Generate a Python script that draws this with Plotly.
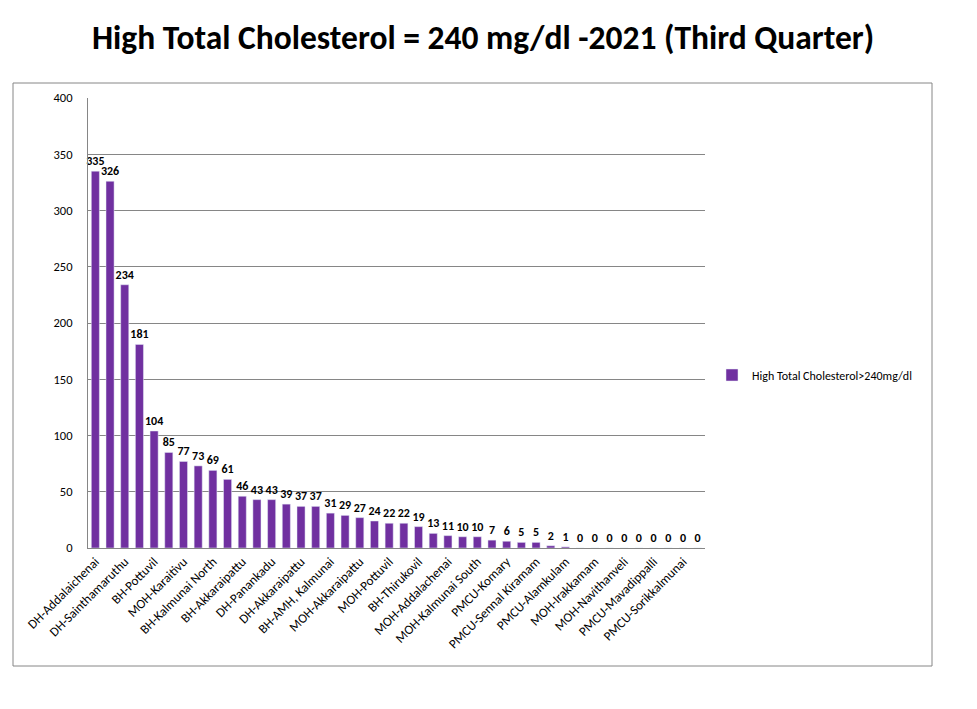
import plotly.graph_objects as go

categories = [
    "DH-Addalaichenai", "BH-Sammanthurai", "DH-Sainthamaruthu", "DH-Nintavur",
    "BH-Pottuvil", "MOH-Sammanthurai", "MOH-Karaitivu", "DH-Central Camp",
    "BH-Kalmunai North", "MOH-Nintavur", "BH-Akkaraipattu", "DH-Thirukovil",
    "DH-Panankadu", "MOH-Sainthamaruthu", "DH-Akkaraipattu", "DH-Maruthamunai",
    "BH-AMH, Kalmunai", "MOH-Alayadivembu", "MOH-Akkaraipattu", "DH-Karaitivu",
    "MOH-Pottuvil", "DH-Irakkamam", "BH-Thirukovil", "MOH-Kalmunai North",
    "MOH-Addalachenai", "DH-Oluvil", "MOH-Kalmunai South", "PMCU-Palamunai",
    "PMCU-Komary", "MOH-Thirukovil", "PMCU-Sennal Kiramam", "DH-Lahugala",
    "PMCU-Alamkulam", "PMCU-Kolavil", "MOH-Irakkamam", "DH-Malwatte",
    "MOH-Navithanveli", "PMCU-Varipathanchenai", "PMCU-Mavadippalli", "MOH-Lahugala",
    "PMCU-Sorikkalmunai", "PMCU-Panama",
]
values = [
    335, 326, 234, 181, 104, 85, 77, 73, 69, 61, 46, 43, 43, 39, 37, 37, 31,
    29, 27, 24, 22, 22, 19, 13, 11, 10, 10, 7, 6, 5, 5, 2, 1,
    0, 0, 0, 0, 0, 0, 0, 0, 0,
]
series_name = "High Total Cholesterol>240mg/dl"
title_text = "High Total Cholesterol = 240 mg/dl -2021 (Third Quarter)"
shown_ticks = categories[0::2]

font_family = "Carlito, Lato, 'Open Sans', sans-serif"

# page body has an 8px margin; reference coords are shifted by it
O = 8
W, H = 977 - 2 * O, 709 - 2 * O
L, R, T, B = 88 - O, W - (705 - O), 98 - O, H - (548 - O)
pw, ph = W - L - R, H - T - B

def px(x):
    return (x - O - L) / pw

def py(y):
    return (H - B - (y - O)) / ph

fig = go.Figure()
fig.add_trace(go.Bar(
    x=categories, y=values, name=series_name,
    marker_color="#7030A0",
    text=values, textposition="outside", cliponaxis=False,
    constraintext="none",
    textfont=dict(size=12, color="#000000", family=font_family),
    texttemplate="<b>%{text}</b>",
))

fig.update_layout(
    width=W, height=H, autosize=False,
    margin=dict(l=L, r=R, t=T, b=B, pad=0),
    paper_bgcolor="white", plot_bgcolor="white",
    font=dict(family=font_family, color="#000000"),
    title=dict(text="<b>" + title_text + "</b>", x=(483 - O) / W, xref="container",
               xanchor="center", y=1 - (37 - O) / H, yref="container", yanchor="middle",
               font=dict(size=33.5, family=font_family, color="#000000")),
    bargap=0.45,
    showlegend=True,
    legend=dict(x=px(712), y=py(375), xanchor="left", yanchor="middle",
                xref="paper", yref="paper", font=dict(size=12), bgcolor="rgba(0,0,0,0)",
                itemwidth=30),
    xaxis=dict(
        type="category", tickmode="array", tickvals=shown_ticks, ticktext=shown_ticks,
        tickangle=-45, tickfont=dict(size=13), showgrid=False,
        showline=True, linecolor="#868686", linewidth=1, ticks="",
    ),
    yaxis=dict(
        range=[0, 400], dtick=50, tickfont=dict(size=12.5),
        showgrid=True, gridcolor="#868686", gridwidth=1,
        showline=True, linecolor="#868686", linewidth=1,
        ticks="", ticklabelstandoff=12, zeroline=False,
    ),
    shapes=[dict(type="rect", xref="paper", yref="paper",
                 x0=px(13), x1=px(932), y0=py(666), y1=py(83),
                 line=dict(color="#868686", width=1), fillcolor="rgba(0,0,0,0)",
                 layer="below")],
)

fig.write_html("out.html")
